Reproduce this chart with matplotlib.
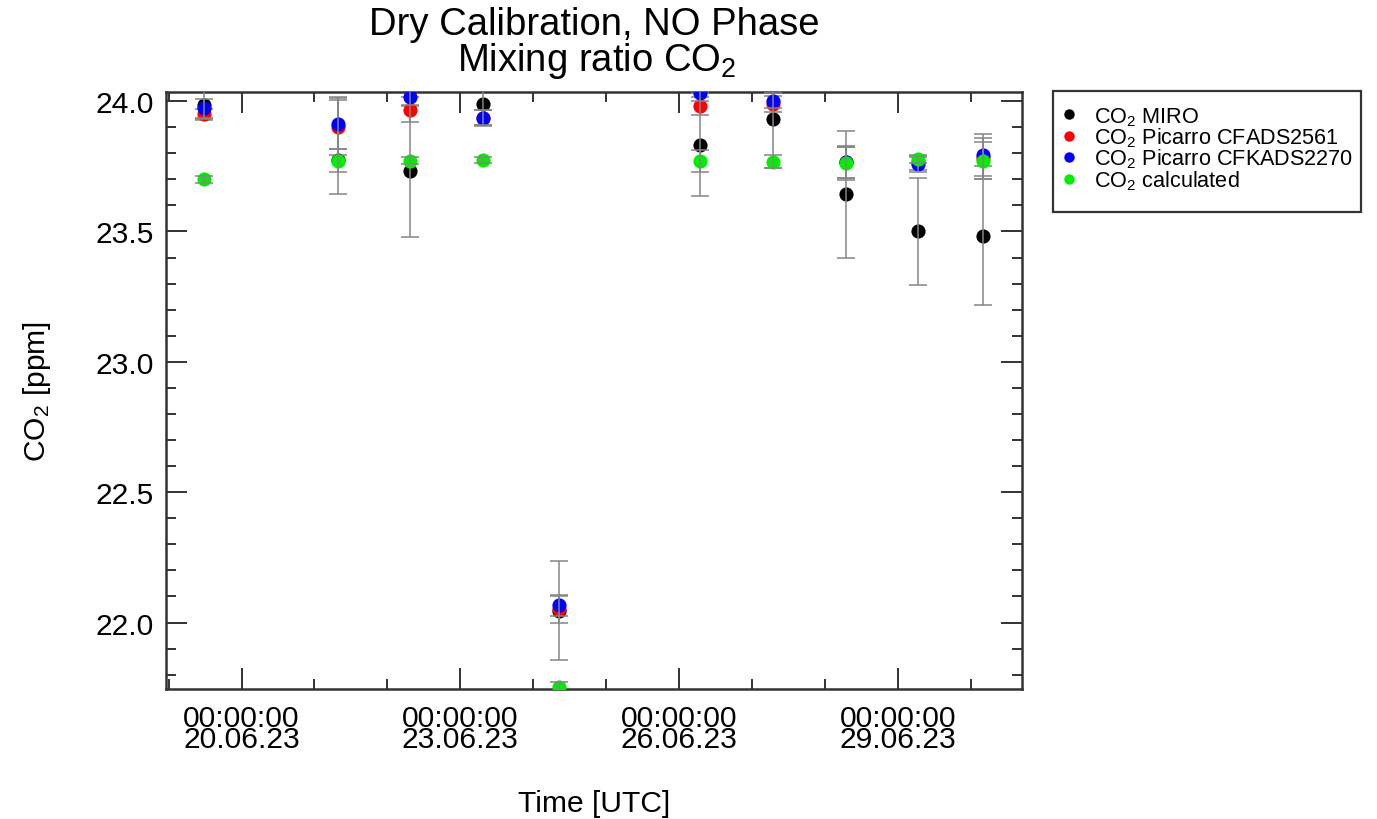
import matplotlib
matplotlib.use("Agg")
import matplotlib.pyplot as plt
import matplotlib.dates as mdates
from matplotlib.ticker import MultipleLocator, FormatStrFormatter
from matplotlib.lines import Line2D
from matplotlib.patches import Rectangle
import pandas as pd

plt.rcParams['font.family'] = ['Liberation Sans', 'DejaVu Sans']
plt.rcParams['mathtext.fontset'] = 'custom'
plt.rcParams['mathtext.rm'] = 'Liberation Sans'
plt.rcParams['mathtext.it'] = 'Liberation Sans:italic'

# ---------------- data ----------------
times = pd.to_datetime([
    "2023-06-19 11:30", "2023-06-21 07:50", "2023-06-22 07:30", "2023-06-23 07:35",
    "2023-06-24 08:40", "2023-06-26 07:00", "2023-06-27 07:00", "2023-06-28 07:00",
    "2023-06-29 06:45", "2023-06-30 04:10"])

miro = [23.986, 23.775, 23.73, 23.99, 22.045, 23.833, 23.933, 23.642, 23.50, 23.484]
miro_err_lo = [0.06, 0.13, 0.25, 0.083, 0.19, 0.198, 0.19, 0.245, 0.204, 0.266]
miro_err_hi = [0.06, 0.24, 0.25, 0.083, 0.19, 0.198, 0.19, 0.245, 0.204, 0.266]

picarro_2561 = [23.95, 23.90, 23.967, 23.935, 22.05, 23.982, 23.99, 23.765, 23.765, 23.78]
picarro_2561_err = [0.02, 0.105, 0.047, 0.03, 0.05, 0.034, 0.03, 0.06, 0.03, 0.08]

picarro_2270 = [23.972, 23.914, 24.016, 23.937, 22.066, 24.03, 24.002, 23.765, 23.757, 23.792]
picarro_2270_err = [0.035, 0.098, 0.03, 0.03, 0.04, 0.03, 0.03, 0.06, 0.03, 0.08]

calculated = [23.70, 23.772, 23.772, 23.775, 21.752, 23.77, 23.767, 23.763, 23.776, 23.772]
calculated_err = [0.013, 0.045, 0.013, 0.012, 0.02, 0.043, 0.025, 0.065, 0.015, 0.07]

labels = ["CO$_2$ MIRO", "CO$_2$ Picarro CFADS2561",
          "CO$_2$ Picarro CFKADS2270", "CO$_2$ calculated"]
colors = ["#000000", "#ff0000", "#0000ff", "#00ee00"]

x_start = pd.Timestamp("2023-06-18 23:08")
x_end = pd.Timestamp("2023-06-30 16:50")
y_min, y_max = 21.745, 24.036

# ---------------- figure ----------------
W, H = 1377, 820
fig = plt.figure(figsize=(W / 100, H / 100), dpi=100)
ax = fig.add_axes([166 / W, 1 - 690 / H, (1021.7 - 166) / W, (690 - 92.7) / H])

series = [
    (miro, [miro_err_lo, miro_err_hi]),
    (picarro_2561, picarro_2561_err),
    (picarro_2270, picarro_2270_err),
    (calculated, calculated_err),
]
z = 3
for (vals, err), col in zip(series, colors):
    ax.plot(times, vals, 'o', color=col, ms=10.2, mew=0, zorder=z)
    ax.errorbar(times, vals, yerr=err, fmt='none', ecolor='#858585',
                elinewidth=1.1, capsize=6.2, capthick=1.1, zorder=z + 1)
    z += 2

ax.set_xlim(x_start, x_end)
ax.set_ylim(y_min, y_max)

ax.xaxis.set_major_locator(mdates.DayLocator(bymonthday=[20, 23, 26, 29]))
ax.xaxis.set_minor_locator(mdates.DayLocator())
ax.xaxis.set_major_formatter(mdates.DateFormatter('%H:%M:%S\n%d.%m.%y'))
ax.yaxis.set_major_locator(MultipleLocator(0.5))
ax.yaxis.set_minor_locator(MultipleLocator(0.1))
ax.yaxis.set_major_formatter(FormatStrFormatter('%.1f'))

for s in ax.spines.values():
    s.set_linewidth(1.8)
    s.set_color('#333333')

ax.tick_params(which='both', direction='in', top=True, right=True,
               color='#333333', width=1.4)
ax.tick_params(which='major', length=15, labelsize=21.6, pad=9)
ax.tick_params(axis='x', which='major', pad=11)
ax.tick_params(which='minor', length=7.5)

ax.set_xlabel("Time [UTC]", fontsize=21.6, labelpad=26)
ax.set_ylabel("CO$_2$ [ppm]", fontsize=21.6, labelpad=30)

fig.text(594 / W, 1 - 35 / H, "Dry Calibration, NO Phase", ha='center',
         va='baseline', fontsize=27.5)
fig.text(597 / W, 1 - 71 / H, "Mixing ratio CO$_2$", ha='center',
         va='baseline', fontsize=27.5)

# legend (frame drawn as its own box)
handles = [Line2D([], [], ls='none', marker='o', ms=7.5, mew=0, color=c) for c in colors]
leg = ax.legend(handles, labels, loc='upper left',
                bbox_to_anchor=(1049 / W, 1 - 92.3 / H), bbox_transform=fig.transFigure,
                fontsize=15.6, frameon=False, borderpad=0.63,
                handlelength=0.6, handletextpad=0.85, labelspacing=-0.1,
                borderaxespad=0)
fig.patches.append(Rectangle((1053 / W, 1 - 213.3 / H), (1361 - 1053) / W,
                             (213.3 - 92.3) / H, transform=fig.transFigure,
                             fill=False, edgecolor='#333333', linewidth=1.6))

fig.canvas.draw()
for lab in ax.get_xticklabels():
    lab.set_linespacing(0.68)

fig.savefig("out.png", dpi=100)
